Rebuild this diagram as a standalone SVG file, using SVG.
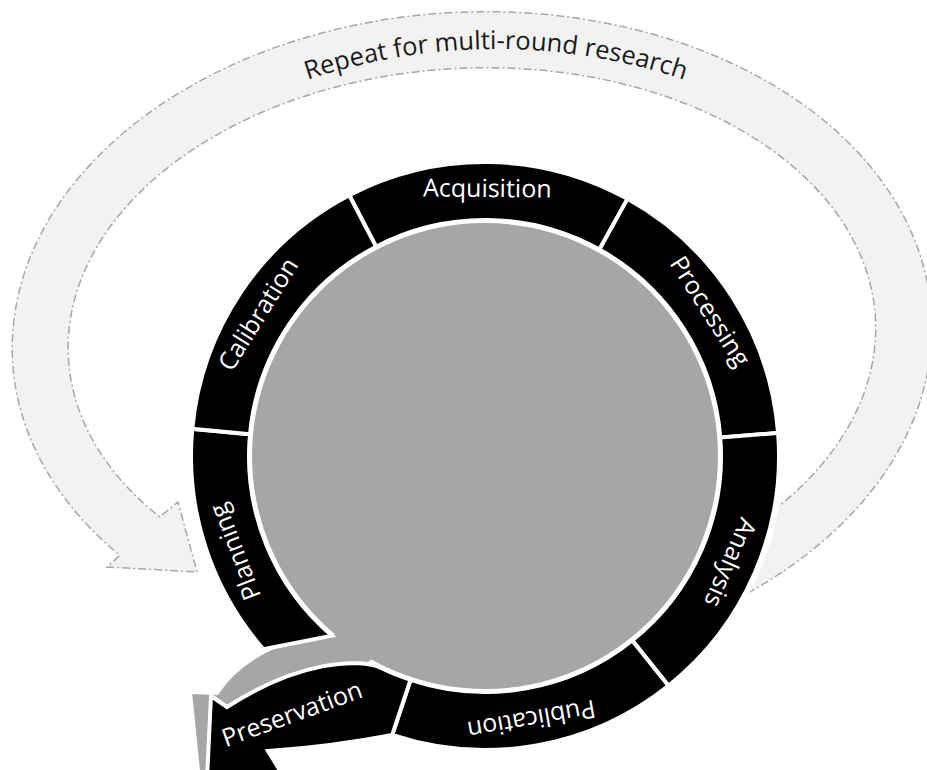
<svg xmlns="http://www.w3.org/2000/svg" width="927" height="770" viewBox="0 0 927 770">
  <defs>
    <style>
      .loop { fill: #f2f2f2; stroke: #a6a6a6; stroke-width: 1.5; stroke-dasharray: 8 3 2 3; }
      .seg { fill: #000; stroke: #fff; stroke-width: 4; stroke-linejoin: miter; }
      .core { fill: #a6a6a6; }
      .tail { fill: #a6a6a6; stroke: #fff; stroke-width: 4; }
      .lbl { font-family: "Open Sans", "Noto Sans", "DejaVu Sans", sans-serif; font-size: 25px; fill: #fff; text-anchor: middle; }
      .loopLbl { font-family: "Open Sans", "Noto Sans", "DejaVu Sans", sans-serif; font-size: 25.5px; fill: #1a1a1a; }
    </style>
    <!-- baseline arc for the loop caption -->
    <path id="loopText" d="M 196,131 A 590 590 0 0 1 796,131"/>
  </defs>

  <rect width="927" height="770" fill="#fff"/>

  <!-- outer feedback loop arrow -->
  <g id="repeat-loop">
    <path class="loop" d="M 718.9,607.8 A 460 326 -2.5 1 0 119.8,555.3 L 107,567 L 197,572 L 178,502 L 159.7,516.9 A 404 270 -2.5 1 1 745.7,530 Z"/>
    <text class="loopLbl"><textPath href="#loopText" startOffset="50%" text-anchor="middle">Repeat for multi-round research</textPath></text>
  </g>

  <!-- white halo around the ring -->
  <circle cx="485" cy="456" r="298" fill="#fff"/>

  <!-- grey hub with its outgoing tail -->
  <g id="hub">
    <path class="tail" d="M 360,600 L 333,633 C 300,634 245,650 217,693 L 190,692 L 201,800 L 240,800 L 262,722 L 345,682 L 400,640 Z"/>
    <circle class="core" cx="485" cy="456" r="233"/>
  </g>

  <!-- ring stages -->
  <g id="acquisition">
    <path class="seg" d="M 349.26,195.22 A 294 294 0 0 1 627.53,198.87 L 599.41,249.59 A 236 236 0 0 0 376.04,246.67 Z"/>
    <text class="lbl" x="485" y="197" transform="rotate(0.5 485 456)">Acquisition</text>
  </g>
  <g id="processing">
    <path class="seg" d="M 627.53,198.87 A 294 294 0 0 1 778.09,432.93 L 720.27,437.48 A 236 236 0 0 0 599.41,249.59 Z"/>
    <text class="lbl" x="485" y="197" transform="rotate(57.25 485 456)">Processing</text>
  </g>
  <g id="analysis">
    <path class="seg" d="M 778.09,432.93 A 294 294 0 0 1 668.43,685.76 L 632.24,640.43 A 236 236 0 0 0 720.27,437.48 Z"/>
    <text class="lbl" x="485" y="197" transform="rotate(113.5 485 456)">Analysis</text>
  </g>
  <g id="publication">
    <path class="seg" d="M 668.43,685.76 A 294 294 0 0 1 392.21,734.98 L 410.52,679.94 A 236 236 0 0 0 632.24,640.43 Z"/>
    <text class="lbl" x="485" y="197" transform="rotate(170 485 456)">Publication</text>
  </g>
  <g id="planning">
    <path class="seg" d="M 263.44,649.28 A 294 294 0 0 1 192.26,428.84 L 250.01,434.2 A 236 236 0 0 0 332.05,635.71 Z"/>
    <text class="lbl" x="485" y="197" transform="rotate(249 485 456)">Planning</text>
  </g>
  <g id="calibration">
    <path class="seg" d="M 192.26,428.84 A 294 294 0 0 1 349.26,195.22 L 376.04,246.67 A 236 236 0 0 0 250.01,434.2 Z"/>
    <text class="lbl" x="485" y="197" transform="rotate(302 485 456)">Calibration</text>
  </g>
  <g id="preservation">
    <path class="seg" d="M 410.52,679.94 A 236 236 0 0 1 381.54,668.12 C 360,658 300,660 227,707 L 211,696 L 206,800 L 292,790 L 268,751 Q 330,747 392.21,734.98 Z"/>
    <text class="lbl" x="295" y="722" transform="rotate(-20 295 722)">Preservation</text>
  </g>
</svg>
